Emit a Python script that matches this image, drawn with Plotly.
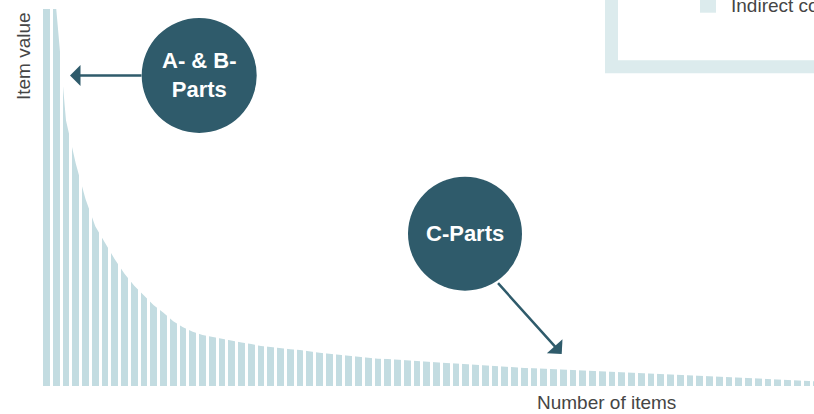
import plotly.graph_objects as go

# ---- data ----
items = list(range(1, 81))
item_values = [7.5, 5.0, 3.52, 2.95, 2.48, 2.12, 1.89, 1.68, 1.49, 1.33,
               1.20, 1.07, 0.97, 0.86, 0.78, 0.72, 0.675, 0.65, 0.62, 0.60,
               0.576, 0.556, 0.53, 0.517, 0.497, 0.486, 0.477, 0.454, 0.441, 0.429,
               0.415, 0.401, 0.388, 0.375, 0.362, 0.358, 0.348, 0.336, 0.331, 0.32,
               0.31, 0.305, 0.30, 0.29, 0.28, 0.278, 0.265, 0.252, 0.246, 0.240,
               0.234, 0.228, 0.222, 0.216, 0.210, 0.204, 0.199, 0.193, 0.187, 0.181,
               0.175, 0.169, 0.163, 0.157, 0.151, 0.145, 0.139, 0.133, 0.128, 0.122,
               0.116, 0.110, 0.104, 0.098, 0.092, 0.086, 0.080, 0.074, 0.069, 0.063]
x_title = "Number of items"
y_title = "Item value"
legend_label = "Indirect costs"
label_ab = "A- & B-<br>Parts"
label_c = "C-Parts"

# ---- style ----
W, H = 814, 414
ML, MR, MT, MB = 40, 0, 9, 28
PW, PH = W - ML - MR, H - MT - MB
BAR = "#c3dce1"
LIGHT = "#dcebed"
DARK = "#2f5b6b"
TXT = "#454545"
FONT = "Arial, Liberation Sans, sans-serif"
XRANGE = [0.333, 79.72]


def px(x):
    return (x - ML) / PW


def py(y):
    return (H - MB - y) / PH


xs = [items[0] - 0.5] + items
ys = [item_values[0]] + item_values

fig = go.Figure()
fig.add_trace(go.Scatter(x=xs, y=ys, mode="lines", line=dict(width=0, color=BAR),
                         fill="tozeroy", fillcolor=BAR, hoverinfo="skip",
                         showlegend=False))

fig.update_layout(
    width=W, height=H, margin=dict(l=ML, r=MR, t=MT, b=MB),
    paper_bgcolor="white", plot_bgcolor="white", showlegend=False,
    font=dict(family=FONT, color=TXT),
    # white separators between the items (full-height ticks above the area)
    xaxis=dict(range=XRANGE, showgrid=False, tick0=0.5, dtick=1, ticks="inside",
               ticklen=PH, tickwidth=2.5, tickcolor="white", showticklabels=False,
               zeroline=False, showline=False, layer="above traces"),
    # short light ticks at the base
    xaxis2=dict(range=XRANGE, overlaying="x", anchor="y", showgrid=False, tick0=0.5,
                dtick=1, ticks="inside", ticklen=9, tickwidth=2, tickcolor="#e8eef0",
                showticklabels=False, zeroline=False, showline=True,
                linecolor="#e8eef0", linewidth=1, layer="above traces", side="bottom"),
    yaxis=dict(range=[0, 5], showgrid=False, showticklabels=False, zeroline=False,
               showline=False),
)

shapes = [
    dict(type="rect", xref="paper", yref="paper", x0=px(611.5), x1=1.3,
         y0=py(66.7), y1=1.3, line=dict(color=LIGHT, width=13), fillcolor="white",
         layer="above"),
    dict(type="rect", xref="paper", yref="paper", x0=px(700), x1=px(716),
         y0=py(12.7), y1=py(-3.3), line=dict(width=0), fillcolor=LIGHT, layer="above"),
    dict(type="circle", xref="paper", yref="paper", x0=px(141.7), x1=px(256.7),
         y0=py(133), y1=py(18), line=dict(width=0), fillcolor=DARK, layer="above"),
    dict(type="circle", xref="paper", yref="paper", x0=px(408), x1=px(522),
         y0=py(290.7), y1=py(176.7), line=dict(width=0), fillcolor=DARK, layer="above"),
]
fig.update_layout(shapes=shapes)


def arrow(tip, tail):
    return dict(xref="paper", yref="paper", x=px(tip[0]), y=py(tip[1]),
                ax=tail[0] - tip[0], ay=tail[1] - tip[1], text="",
                showarrow=True, arrowhead=1, arrowsize=1.4, arrowwidth=2.5,
                arrowcolor=DARK)


def label(x, y, text, size, color, **kw):
    d = dict(xref="paper", yref="paper", x=px(x), y=py(y), text=text,
             showarrow=False, xanchor="center", yanchor="middle",
             font=dict(size=size, color=color))
    d.update(kw)
    return d


ann = [
    label(23.5, 56.5, y_title, 19, TXT, textangle=-90),
    label(606, 402, x_title, 19, TXT),
    label(729, 5, legend_label, 19, TXT, xanchor="left"),
    label(199.2, 75, "<b>" + label_ab + "</b>", 22, "white"),
    label(465, 233.7, "<b>" + label_c + "</b>", 22, "white"),
    arrow((70, 75.5), (143, 75.5)),
    arrow((561.7, 354), (496.7, 281.7)),
]
fig.update_layout(annotations=ann)

fig.write_html("out.html")
